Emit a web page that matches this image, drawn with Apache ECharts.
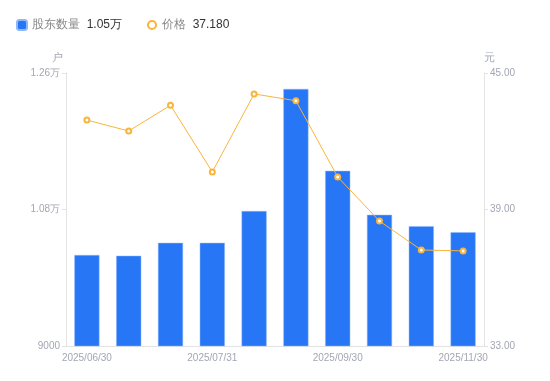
<!DOCTYPE html>
<html><head><meta charset="utf-8">
<script src="https://cdn.jsdelivr.net/npm/echarts@6/dist/echarts.min.js"></script>
<style>html,body{margin:0;padding:0;background:#fff}#c{width:550px;height:381px}</style>
</head><body><div id="c"></div>
<script>
const categories = ['2025/06/30','2025/07/10','2025/07/20','2025/07/31','2025/08/15','2025/08/31','2025/09/30','2025/10/20','2025/10/31','2025/11/30'];
const holders = [10200, 10190, 10360, 10360, 10780, 12390, 11310, 10730, 10580, 10500];
const prices = [42.93, 42.45, 43.58, 40.65, 44.08, 43.78, 40.43, 38.49, 37.22, 37.18];
const leftTicks = [9000, 10800, 12600];
const rightTicks = [33, 39, 45];

function fmtHolders(v){ return v >= 10000 ? (v/10000).toFixed(2)+'万' : String(v); }
const chart = echarts.init(document.getElementById('c'));
const axisLabelColor = '#a3a6b4';
chart.setOption({
  animation:false,
  legend:{
    left:11, top:14, itemWidth:10, itemHeight:10, itemGap:24,
    formatter:function(name){
      if(name==='股东数量') return '{a|股东数量}  {b|'+fmtHolders(holders[holders.length-1])+'}';
      return '{a|价格}  {b|'+prices[prices.length-1].toFixed(3)+'}';
    },
    textStyle:{rich:{a:{fontSize:12,color:'#888'},b:{fontSize:12,color:'#333'}}},
    data:[{name:'股东数量',icon:'roundRect'},{name:'价格'}]
  },
  grid:{left:66,right:66,top:73,bottom:35},
  xAxis:{
    type:'category', data:categories,
    axisLine:{lineStyle:{color:'#e3e3e3'}},
    axisTick:{show:false},
    axisLabel:{interval:2,color:axisLabelColor,fontSize:10,margin:7}
  },
  yAxis:[{
    type:'value', min:leftTicks[0], max:leftTicks[2], interval:leftTicks[1]-leftTicks[0],
    name:'户', nameGap:10, nameTextStyle:{color:axisLabelColor,fontSize:11,align:'right',padding:[0,3,0,0]},
    axisLine:{show:true,lineStyle:{color:'#e3e3e3'}},
    axisTick:{show:true,length:4,lineStyle:{color:'#e3e3e3'}},
    splitLine:{show:false},
    axisLabel:{color:axisLabelColor,fontSize:10,margin:6,formatter:fmtHolders}
  },{
    type:'value', min:rightTicks[0], max:rightTicks[2], interval:rightTicks[1]-rightTicks[0],
    name:'元', nameGap:10, nameTextStyle:{color:axisLabelColor,fontSize:11,align:'left'},
    axisLine:{show:true,lineStyle:{color:'#e3e3e3'}},
    axisTick:{show:true,length:4,lineStyle:{color:'#e3e3e3'}},
    splitLine:{show:false},
    axisLabel:{color:axisLabelColor,fontSize:10,margin:6,formatter:v=>v.toFixed(2)}
  }],
  series:[{
    name:'股东数量', type:'bar', data:holders, yAxisIndex:0, barWidth:'60%',
    itemStyle:{color:'#2776F6',borderColor:'#8fb8fa',borderWidth:0.5}
  },{
    name:'价格', type:'line', data:prices, yAxisIndex:1,
    symbol:'emptyCircle', symbolSize:5,
    lineStyle:{color:'#F9B43C',width:1},
    itemStyle:{color:'#F9B43C',borderWidth:1.5}
  }]
});
</script></body></html>
